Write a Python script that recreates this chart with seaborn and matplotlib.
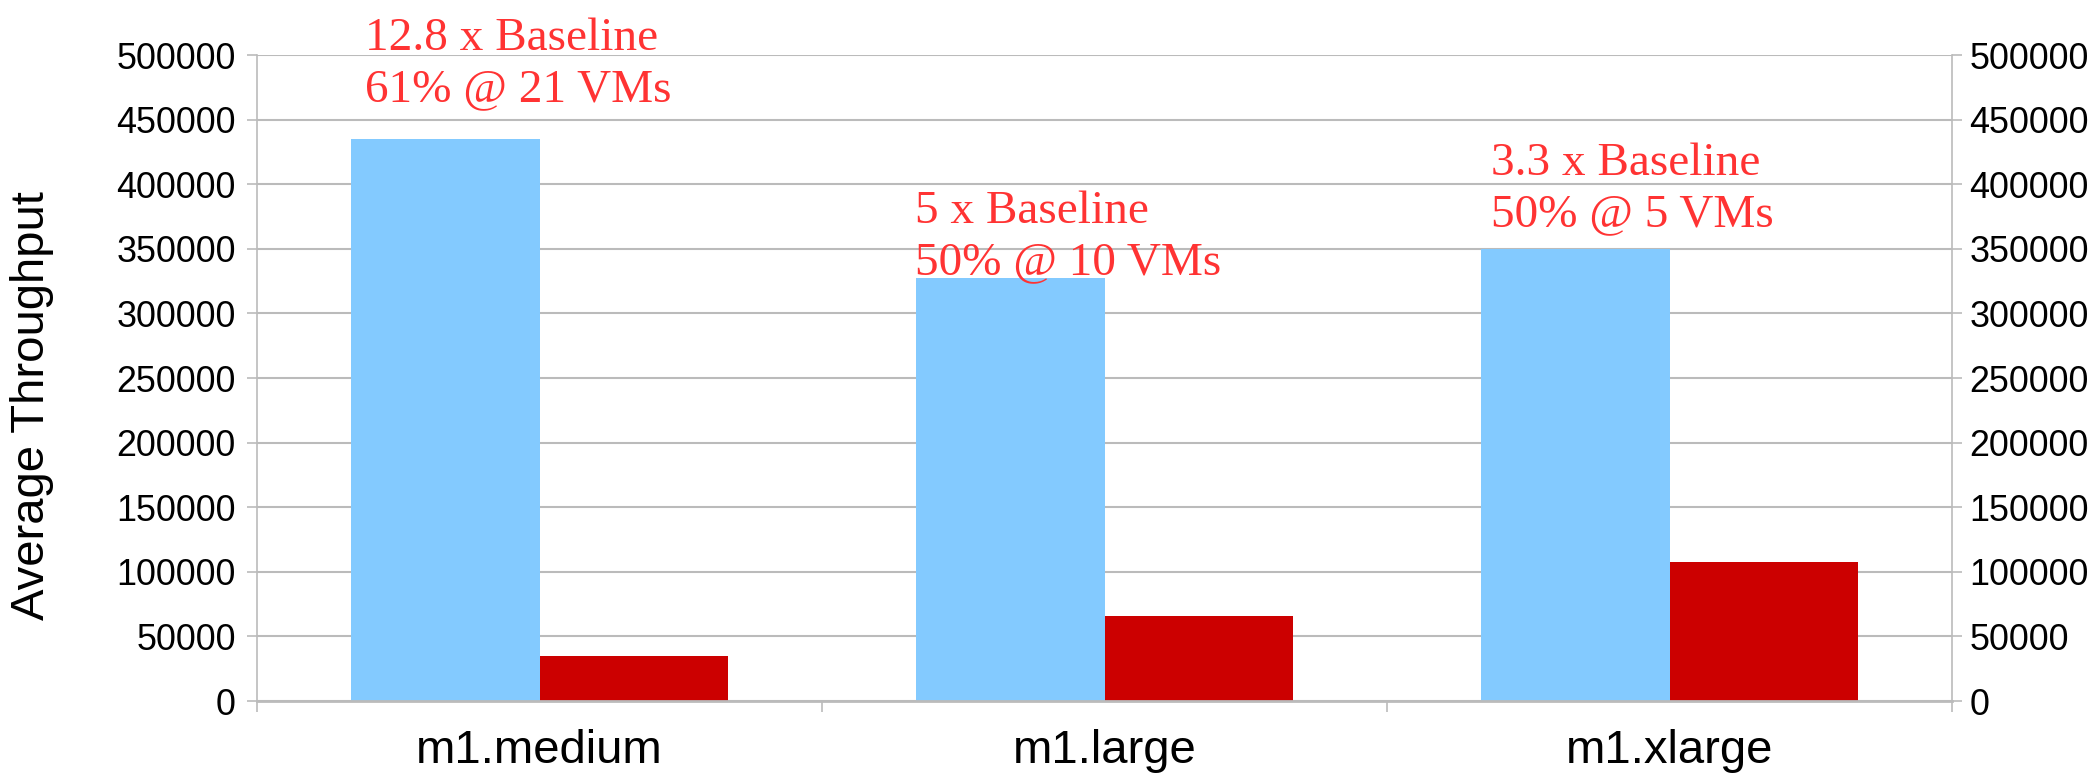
import matplotlib
matplotlib.use("Agg")
import matplotlib.pyplot as plt
import seaborn as sns
import pandas as pd

# Instance types and measured average throughput
instances = ["m1.medium", "m1.large", "m1.xlarge"]
scaled = [434700, 327700, 350000]
baseline = [34700, 65500, 107300]

# Speed-up notes shown above each group (anchored at the baseline of the last line)
notes = ["12.8 x Baseline\n61% @ 21 VMs",
         "5 x Baseline\n50% @ 10 VMs",
         "3.3 x Baseline\n50% @ 5 VMs"]
note_x = [-0.31, 0.664, 1.684]
note_y = [464400, 330300, 367650]

y_ticks = list(range(0, 500001, 50000))

df = pd.DataFrame({
    "instance": instances * 2,
    "series": ["Scaled"] * 3 + ["Baseline"] * 3,
    "throughput": scaled + baseline,
})

sns.set_theme(style="white")
plt.rcParams["font.family"] = ["Liberation Sans", "DejaVu Sans"]

fig = plt.figure(figsize=(20.98, 7.74), dpi=100)
ax = fig.add_axes([0.1226, 0.0943, 0.8079, 0.8346])

sns.barplot(data=df, x="instance", y="throughput", hue="series",
            order=instances, hue_order=["Scaled", "Baseline"],
            palette=["#83caff", "#cc0000"], width=0.668,
            saturation=1, linewidth=0, legend=False, ax=ax)

ax.set_xlim(-0.5, 2.5)
ax.set_ylim(0, 500000)
ax.set_yticks(y_ticks)
ax.set_yticklabels([str(v) for v in y_ticks])

grid_c = "#bbbbbb"
ax.yaxis.grid(True, color=grid_c, linewidth=1.5)
ax.set_axisbelow(True)
for side in ["left", "right"]:
    ax.spines[side].set_color(grid_c)
    ax.spines[side].set_linewidth(1.2)
ax.spines["bottom"].set_color(grid_c)
ax.spines["bottom"].set_linewidth(2.0)
ax.spines["top"].set_visible(False)

ax.tick_params(axis="y", which="major", left=True, length=7.5, width=1.2,
               color=grid_c, pad=8, labelsize=25.8, labelcolor="black")
ax.tick_params(axis="x", which="major", length=0, pad=20,
               labelsize=34, labelcolor="black")
ax.set_xticks([-0.5, 0.5, 1.5, 2.5], minor=True)
ax.tick_params(axis="x", which="minor", bottom=True, length=8,
               width=1.2, color=grid_c)

# Mirror the value scale on the right-hand side
ax2 = ax.twinx()
ax2.set_ylim(ax.get_ylim())
ax2.set_yticks(y_ticks)
ax2.set_yticklabels([str(v) for v in y_ticks])
ax2.grid(False)
for s in ax2.spines.values():
    s.set_visible(False)
ax2.tick_params(axis="y", right=True, length=7.5, width=1.2, color=grid_c,
                pad=5, labelsize=25.8, labelcolor="black")

ax.set_xlabel("")
ax.set_ylabel("Average Throughput", fontsize=34, color="black", va="center")
ax.yaxis.set_label_coords(-0.1326, 0.4567)

for txt, x, y in zip(notes, note_x, note_y):
    ax.text(x, y, txt, ha="left", va="baseline", color="#ff3333",
            fontsize=34, family=["Liberation Serif", "DejaVu Serif"],
            linespacing=1.27, clip_on=False)

fig.savefig("out.png", dpi=100)
